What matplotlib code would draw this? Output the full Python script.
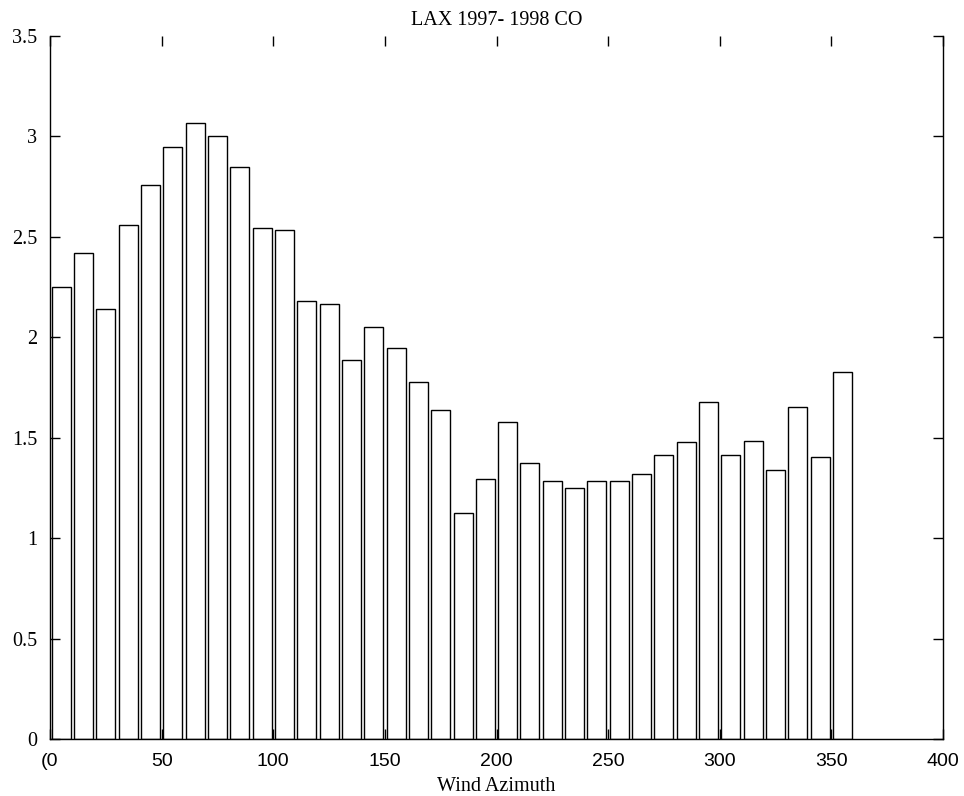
import matplotlib
matplotlib.use("Agg")
import matplotlib.pyplot as plt
import numpy as np

# Data
azimuth_centers = [5, 15, 25, 35, 45, 55, 65, 75, 85, 95, 105, 115, 125, 135, 145, 155, 165, 175,
                   185, 195, 205, 215, 225, 235, 245, 255, 265, 275, 285, 295, 305, 315, 325, 335, 345, 355]
co_values = [2.252, 2.42, 2.141, 2.558, 2.759, 2.949, 3.067, 3.0, 2.848, 2.543, 2.537, 2.179,
             2.166, 1.889, 2.051, 1.947, 1.778, 1.641, 1.126, 1.293, 1.578, 1.374, 1.283, 1.25,
             1.287, 1.283, 1.321, 1.417, 1.478, 1.679, 1.417, 1.483, 1.341, 1.656, 1.407, 1.826]
x_ticks = [0, 50, 100, 150, 200, 250, 300, 350, 400]
x_tick_labels = ["(0", "50", "100", "150", "200", "250", "300", "350", "400"]
y_ticks = [0, 0.5, 1, 1.5, 2, 2.5, 3, 3.5]
y_tick_labels = ["0", "0.5", "1", "1.5", "2", "2.5", "3", "3.5"]

serif = ["Liberation Serif", "DejaVu Serif"]
sans = ["Liberation Sans", "DejaVu Sans"]

fig = plt.figure(figsize=(9.64, 7.96), dpi=100)
ax = fig.add_axes([50/964, 1 - 739.3/796, (943-50)/964, (739.3-36)/796])

ax.bar(azimuth_centers, co_values, width=8.5, facecolor="white", edgecolor="black", linewidth=1.0)

ax.set_xlim(0, 400)
ax.set_ylim(0, 3.5)

ax.spines["top"].set_visible(False)
for s in ["left", "right", "bottom"]:
    ax.spines[s].set_linewidth(1.0)
    ax.spines[s].set_color("black")

ax.set_xticks(x_ticks)
ax.set_xticklabels(x_tick_labels, fontfamily=sans, fontsize=14)
ax.set_yticks(y_ticks)
ax.set_yticklabels(y_tick_labels, fontfamily=serif, fontsize=14.5)

ax.tick_params(axis="x", direction="in", length=7, width=1, top=True, bottom=True, pad=10)
ax.tick_params(axis="y", direction="in", length=7, width=1, left=True, right=True, pad=9)

ax.set_xlabel("Wind Azimuth", fontfamily=serif, fontsize=14.5, labelpad=5)
ax.set_title("LAX 1997- 1998 CO", fontfamily=serif, fontsize=14.5, pad=8)

fig.savefig("out.png", dpi=100)
